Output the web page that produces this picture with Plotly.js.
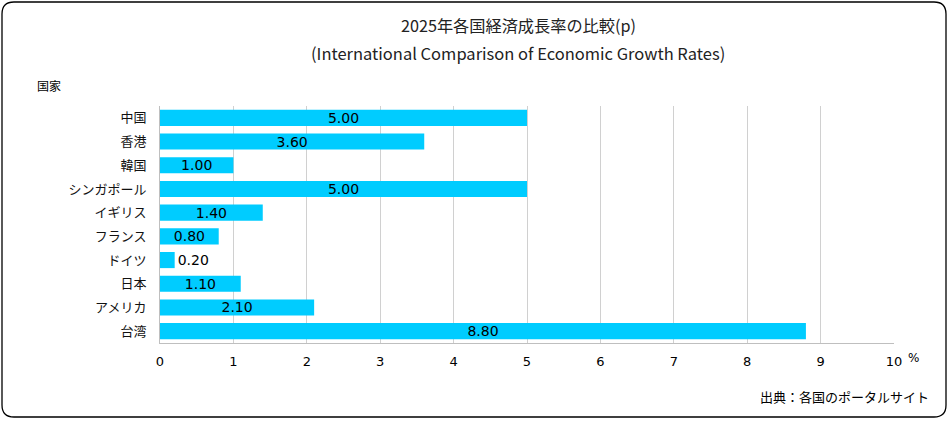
<!DOCTYPE html>
<html><head><meta charset="utf-8">
<script src="https://cdn.plot.ly/plotly-3.0.1.min.js"></script>
<style>html,body{margin:0;padding:0;background:#fff}#chart{width:950px;height:421px}</style>
</head><body><div id="chart"></div>
<script>
const countries = ['中国','香港','韓国','シンガポール','イギリス','フランス','ドイツ','日本','アメリカ','台湾'];
const growth = [5.00, 3.60, 1.00, 5.00, 1.40, 0.80, 0.20, 1.10, 2.10, 8.80];
const xTicks = [0,1,2,3,4,5,6,7,8,9,10];
const titleLines = ['2025年各国経済成長率の比較(p)', '(International Comparison of Economic Growth Rates)'];

const numFont = 'Verdana, "DejaVu Sans", sans-serif';
const jpFont = '"Noto Sans CJK JP", sans-serif';

const trace = {
  type: 'bar', orientation: 'h',
  y: countries, x: growth,
  marker: {color: '#00CCFF'},
  text: growth.map(v => v.toFixed(2)),
  textposition: 'auto',
  insidetextanchor: 'middle',
  constraintext: 'none',
  insidetextfont: {color: '#000', size: 14, family: numFont},
  outsidetextfont: {color: '#000', size: 14, family: numFont},
  cliponaxis: false,
  hoverinfo: 'none'
};

const W = 950, H = 421, r = 12, x0 = 2, y0 = 2, x1 = 946, y1 = 417;
const L = 160, R = 56, T = 106, B = 78;
const plotW = W - L - R, plotH = H - T - B;
const px = v => (v - L) / plotW, py = v => 1 - (v - T) / plotH;
const P = (x, y) => `${px(x)},${py(y)}`;
const border = `M ${P(x0+r,y0)} L ${P(x1-r,y0)} Q ${P(x1,y0)} ${P(x1,y0+r)} L ${P(x1,y1-r)} Q ${P(x1,y1)} ${P(x1-r,y1)} L ${P(x0+r,y1)} Q ${P(x0,y1)} ${P(x0,y1-r)} L ${P(x0,y0+r)} Q ${P(x0,y0)} ${P(x0+r,y0)} Z`;

const ann = (text, x, y, xanchor, font) => ({text, xref: 'paper', yref: 'paper', x: px(x), y: py(y),
  xanchor, yanchor: 'middle', showarrow: false, font});

const layout = {
  width: W, height: H,
  margin: {l: L, r: R, t: T, b: B},
  paper_bgcolor: '#fff', plot_bgcolor: '#fff',
  showlegend: false,
  bargap: 0.32,
  xaxis: {range: [0, 10], tickvals: xTicks, ticktext: xTicks.map(String), showgrid: true, gridcolor: '#d0d0d0',
          zeroline: false, showline: true, linecolor: '#bfbfbf', ticks: '', ticklabelstandoff: 6,
          tickfont: {family: numFont, size: 13, color: '#000'}, fixedrange: true},
  yaxis: {categoryorder: 'array', categoryarray: countries, autorange: 'reversed', showgrid: false,
          showline: true, linecolor: '#bfbfbf', zeroline: false, ticks: '', ticklabelstandoff: 10,
          tickfont: {family: jpFont, size: 13, color: '#111'}, fixedrange: true},
  shapes: [{type: 'path', xref: 'paper', yref: 'paper', layer: 'above', path: border,
            line: {color: '#000', width: 1.3}}],
  annotations: [
    ann(titleLines[0], 518, 25, 'center', {family: jpFont, size: 16.2, color: '#222'}),
    ann(titleLines[1], 518, 53, 'center', {family: jpFont, size: 16.5, color: '#222'}),
    ann('国家', 35, 85, 'left', {family: jpFont, size: 12, color: '#000'}),
    ann('%', 913, 358, 'center', {family: numFont, size: 12, color: '#000'}),
    ann('出典：各国のポータルサイト', 931, 396, 'right', {family: jpFont, size: 13, color: '#000'})
  ]
};

Plotly.newPlot('chart', [trace], layout, {displayModeBar: false, staticPlot: true});
</script></body></html>
